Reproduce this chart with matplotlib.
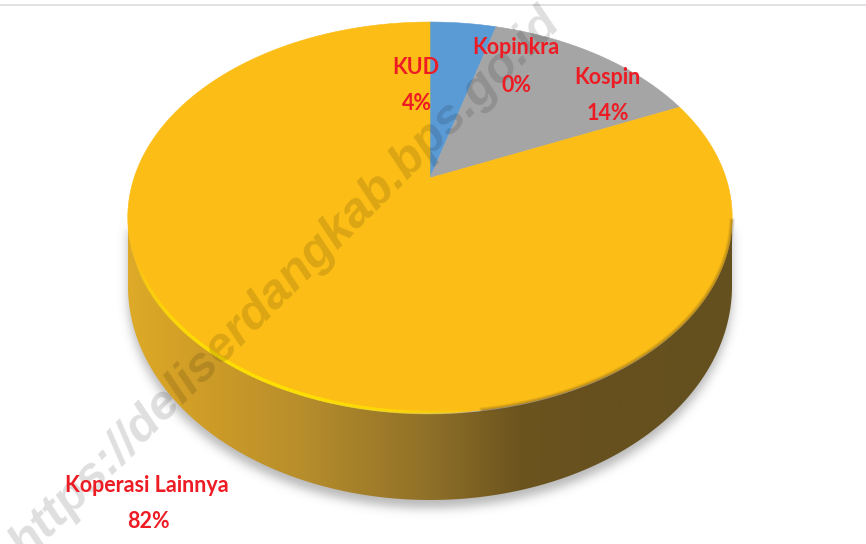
import numpy as np
from matplotlib import pyplot as plt
from matplotlib.patches import Polygon
from matplotlib.path import Path

# data
labels = ['KUD', 'Kopinkra', 'Kospin', 'Koperasi Lainnya']
values = [4.3, 0.0, 14.0, 81.7]
pct_labels = ['4%', '0%', '14%', '82%']
colors = ['#5B9BD5', '#ED7D31', '#A5A5A5', '#FBBD16']
label_pos = [(416, 85), (516, 66), (607, 95), (147, 503)]

W, H = 866, 544
cx, apex_y = 430, 178
top_cy, top_ry = 218, 196
bot_cy, bot_ry = 286, 214
rx = 302


def ellipse(cy, ry, t):
    return np.column_stack([cx + rx * np.cos(t), cy + ry * np.sin(t)])


def project(theta):
    # disc seen in perspective, theta clockwise from 12 o'clock
    k, A, B = 0.202, 187.5, 296
    u, v = np.sin(theta), np.cos(theta)
    w = 1 + k * v
    return np.column_stack([cx + B * u / w, apex_y - A * v / w])


def blur(img, r):
    kernel = np.exp(-0.5 * (np.arange(-3 * r, 3 * r + 1) / r) ** 2)
    kernel /= kernel.sum()
    img = np.apply_along_axis(np.convolve, 0, img, kernel, mode='same')
    return np.apply_along_axis(np.convolve, 1, img, kernel, mode='same')


fig = plt.figure(figsize=(W / 100, H / 100), dpi=100)
ax = fig.add_axes([0, 0, 1, 1])
ax.axis('off')

ax.plot([0, W], [5, 5], color='#DDDDDD', lw=1.2, zorder=1)

# side wall outline
t_low = np.linspace(0, np.pi, 300)
side = np.vstack([ellipse(top_cy, top_ry, t_low), ellipse(bot_cy, bot_ry, t_low[::-1])])
outline = np.vstack([ellipse(bot_cy, bot_ry, t_low),
                     ellipse(top_cy, top_ry, np.linspace(np.pi, 2 * np.pi, 300))])

# soft shadow under the pie
gx, gy = np.meshgrid(np.arange(W) + 0.5, np.arange(H) + 0.5)
grid = np.column_stack([gx.ravel(), gy.ravel()])
mask = Path(outline + [0, 8]).contains_points(grid).reshape(H, W).astype(float)
mask[:230, :] = 0
shadow = np.zeros((H, W, 4))
shadow[..., :3] = 0.45
shadow[..., 3] = blur(mask, 5) * 0.5
ax.imshow(shadow, extent=[0, W, H, 0], aspect='auto', zorder=2)

# side gradient
stops_x = [128, 180, 300, 430, 520, 600, 732]
stops_r = [222, 212, 184, 143, 108, 102, 100]
stops_g = [170, 160, 142, 112, 84, 80, 80]
stops_b = [40, 38, 44, 40, 30, 30, 30]
xs = np.arange(128, 733)
grad = np.dstack([np.interp(xs, stops_x, s) for s in (stops_r, stops_g, stops_b)]) / 255
im = ax.imshow(grad, extent=[128, 732, 510, 200], aspect='auto', zorder=3)
ax.set_xlim(0, W)
ax.set_ylim(H, 0)
clip = Polygon(side, closed=True, transform=ax.transData)
im.set_clip_path(clip)

# slices on top face
start = 0.0
total = sum(values)
for val, col in zip(values, colors):
    if val > 0:
        end = start + val / total
        th = 2 * np.pi * np.linspace(start, end, 200)
        pts = np.vstack([[cx, apex_y], project(th)])
        ax.add_patch(Polygon(pts, closed=True, fc=col, ec=col, lw=0.4, zorder=4))
    start += val / total

# rim light along the lower left, fading at both ends
t_rim = np.linspace(np.radians(82), np.radians(166), 90)
rim = ellipse(top_cy - 1.5, top_ry, t_rim)
for i in range(len(rim) - 1):
    a = np.sin(np.pi * i / (len(rim) - 2)) ** 0.6
    ax.plot(rim[i:i + 2, 0], rim[i:i + 2, 1], color='#FFE000', lw=2.6, alpha=a,
            solid_capstyle='butt', zorder=5)
# soft dark edge along the lower right
t_dark = np.linspace(0.02, np.radians(80), 120)
dark = ellipse(top_cy - 1, top_ry, t_dark)
for lw, a in zip([4, 2.5, 1.2], [0.12, 0.15, 0.2]):
    ax.plot(dark[:, 0], dark[:, 1], color='#6B5020', lw=lw, alpha=a, zorder=5)

# watermark
ax.text(26, 561, 'https://deliserdangkab.bps.go.id', fontsize=35.5, family='Liberation Sans',
        style='italic', fontweight='bold', color='black', alpha=0.13, rotation=45,
        rotation_mode='anchor', ha='left', va='baseline', zorder=6)

# labels
for (x, y), name, pct in zip(label_pos, labels, pct_labels):
    ax.text(x, y - 18, name, color='#ED1C24', fontsize=15.5, family='Lato', fontweight='bold',
            ha='center', va='center', zorder=7)
    ax.text(x + 1, y + 19, pct, color='#ED1C24', fontsize=15.5, family='Lato', fontweight='bold',
            ha='center', va='center', zorder=7)

fig.savefig('out.png', dpi=100)
